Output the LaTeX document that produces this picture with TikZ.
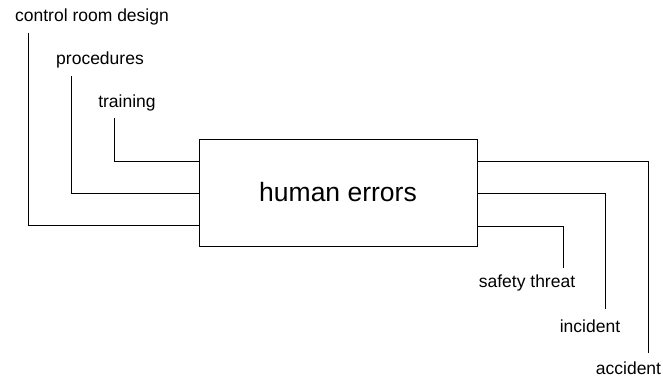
\documentclass[tikz,border=0pt]{standalone}
\usepackage{fontspec}
\setmainfont{Liberation Sans}
\begin{document}
\begin{tikzpicture}[x=1pt,y=-1pt,
  lbl/.style={inner sep=0pt,font=\fontsize{17.5}{20}\selectfont},
  conn/.style={draw,line width=1pt},
  errbox/.style={draw,line width=1pt,minimum width=278pt,minimum height=107pt,inner sep=0pt,font=\fontsize{26.5}{30}\selectfont}]
\useasboundingbox (0,0) rectangle (663,377);
\node[lbl] (box) at (338,192.5) [errbox] {human errors};
\node[lbl] (crd) at (92,17) {control room design};
\node[lbl] (proc) at (100,60) {procedures};
\node[lbl] (train) at (127,103) {training};
\node[lbl] (safe) at (527,283) {safety threat};
\node[lbl] (inc) at (590,326) {incident};
\node[lbl] (acc) at (628.5,368) {accident};
\coordinate (c1) at (28,33);
\coordinate (c2) at (71,76);
\coordinate (c3) at (114,118);
\coordinate (e1) at (563,268);
\coordinate (e2) at (605,309);
\coordinate (e3) at (648,353);
\draw[conn] (c1) |- (box.west |- 0,225);
\draw[conn] (c2) |- (box.west |- 0,193);
\draw[conn] (c3) |- (box.west |- 0,161);
\draw[conn] (box.east |- 0,226) -| (e1);
\draw[conn] (box.east |- 0,193) -| (e2);
\draw[conn] (box.east |- 0,161) -| (e3);
\end{tikzpicture}
\end{document}
